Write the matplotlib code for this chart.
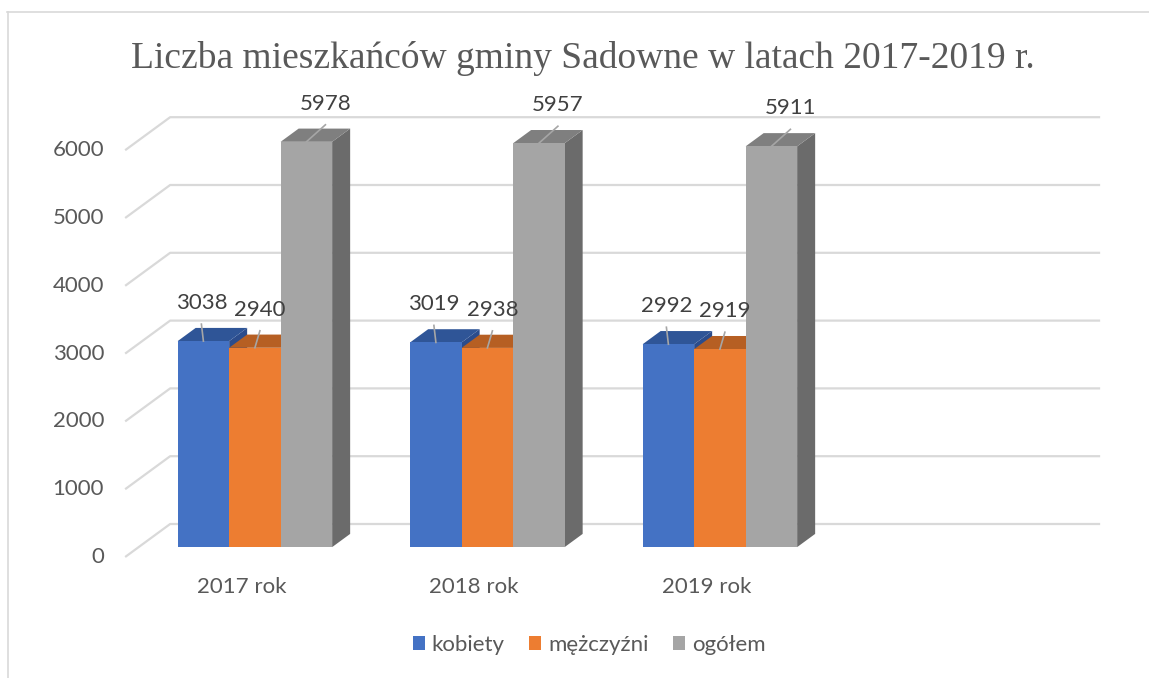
import matplotlib
matplotlib.use("Agg")
import matplotlib.pyplot as plt
from matplotlib.patches import Polygon, Patch
from matplotlib.lines import Line2D

# dane
lata = ["2017 rok", "2018 rok", "2019 rok"]
serie = ["kobiety", "mężczyźni", "ogółem"]
kobiety = [3038, 3019, 2992]
mezczyzni = [2940, 2938, 2919]
ogolem = [5978, 5957, 5911]
y_ticks = [0, 1000, 2000, 3000, 4000, 5000, 6000]

front_cols = ["#4472C4", "#ED7D31", "#A5A5A5"]
top_cols = ["#2F5597", "#B65F23", "#7F7F7F"]
side_cols = ["#2B4C8C", "#A8541C", "#6B6B6B"]
text_col = "#595959"
grid_col = "#D9D9D9"

W, H = 1149, 678
PX_CAT = 232.5      # px per category
PX_VAL = 0.0678     # px per unit of value
X0, Y0 = 241.4, 121  # px of category 0 / value 0 on the front plane

# depth of the 3D box (d=0 front, d=1 back wall)
DX = 45 / PX_CAT
DY = 33 / PX_VAL
BAR_D0, BAR_D1 = 0.3, 0.7
BW = 51.5 / PX_CAT
N_SLOTS = 4
FS = 16


def px_x(p):
    return p / PX_CAT


def px_v(p):
    return p / PX_VAL


fig = plt.figure(figsize=(W / 100, H / 100), dpi=100)
ax = fig.add_axes([0, 0, 1, 1])
ax.set_xlim(-X0 / PX_CAT, (W - X0) / PX_CAT)
ax.set_ylim(-Y0 / PX_VAL, (H - Y0) / PX_VAL)
ax.axis("off")

font = "Lato"

# sciana tylna z liniami siatki
xa = -0.5
xb = N_SLOTS - 0.5
for t in y_ticks:
    ax.plot([xa, xa + DX, xb + DX], [t, t + DY, t + DY],
            color=grid_col, lw=1.6, solid_capstyle="butt", zorder=1)
    ax.text(xa - px_x(21), t, str(t), ha="right", va="center",
            fontsize=FS, color=text_col, family=font)

# slupki
values = [kobiety, mezczyzni, ogolem]
lab_dx = [-2, 5, 19]
dd = BAR_D1 - BAR_D0
for i in range(len(lata)):
    for j, vals in enumerate(values):
        v = vals[i]
        xl = i - 1.5 * BW + j * BW + BAR_D0 * DX
        xr = xl + BW
        b = BAR_D0 * DY
        top = v + b
        ox, oy = dd * DX, dd * DY
        ax.add_patch(Polygon([(xr, b), (xr, top), (xr + ox, top + oy), (xr + ox, b + oy)],
                             closed=True, fc=side_cols[j], ec="none", zorder=2))
        ax.add_patch(Polygon([(xl, top), (xr, top), (xr + ox, top + oy), (xl + ox, top + oy)],
                             closed=True, fc=top_cols[j], ec="none", zorder=2))
        ax.add_patch(Polygon([(xl, b), (xr, b), (xr, top), (xl, top)],
                             closed=True, fc=front_cols[j], ec="none", zorder=2))
        cx = (xl + xr) / 2
        lx = cx + px_x(lab_dx[j])
        ax.plot([cx, lx], [top, top + px_v(17)], color="#A6A6A6", lw=1.2, zorder=3)
        ax.text(lx, top + px_v(38), str(v), ha="center", va="center",
                fontsize=FS, color="#404040", family=font, zorder=4)
    ax.text(i, px_v(-30), lata[i], ha="center", va="center",
            fontsize=FS, color=text_col, family=font)

# tytul
fig.text(583 / W, (H - 68) / H, "Liczba mieszkańców gminy Sadowne w latach 2017-2019 r.",
         ha="center", va="baseline", fontsize=27, color=text_col, family="Liberation Serif")

# legenda
handles = [Patch(fc=c, ec="none") for c in front_cols]
leg = fig.legend(handles, serie, loc="center", bbox_to_anchor=(589 / W, 33 / H),
                 ncol=3, frameon=False, handlelength=0.55, handleheight=0.55,
                 handletextpad=0.3, columnspacing=1.1,
                 prop={"family": font, "size": FS})
for t in leg.get_texts():
    t.set_color(text_col)

# ramka
fig.add_artist(Line2D([7 / W, 1], [(H - 12) / H] * 2, color=grid_col, lw=1.2,
                      transform=fig.transFigure))
fig.add_artist(Line2D([8 / W] * 2, [0, (H - 12) / H], color=grid_col, lw=1.2,
                      transform=fig.transFigure))

fig.savefig("out.png", dpi=100)
